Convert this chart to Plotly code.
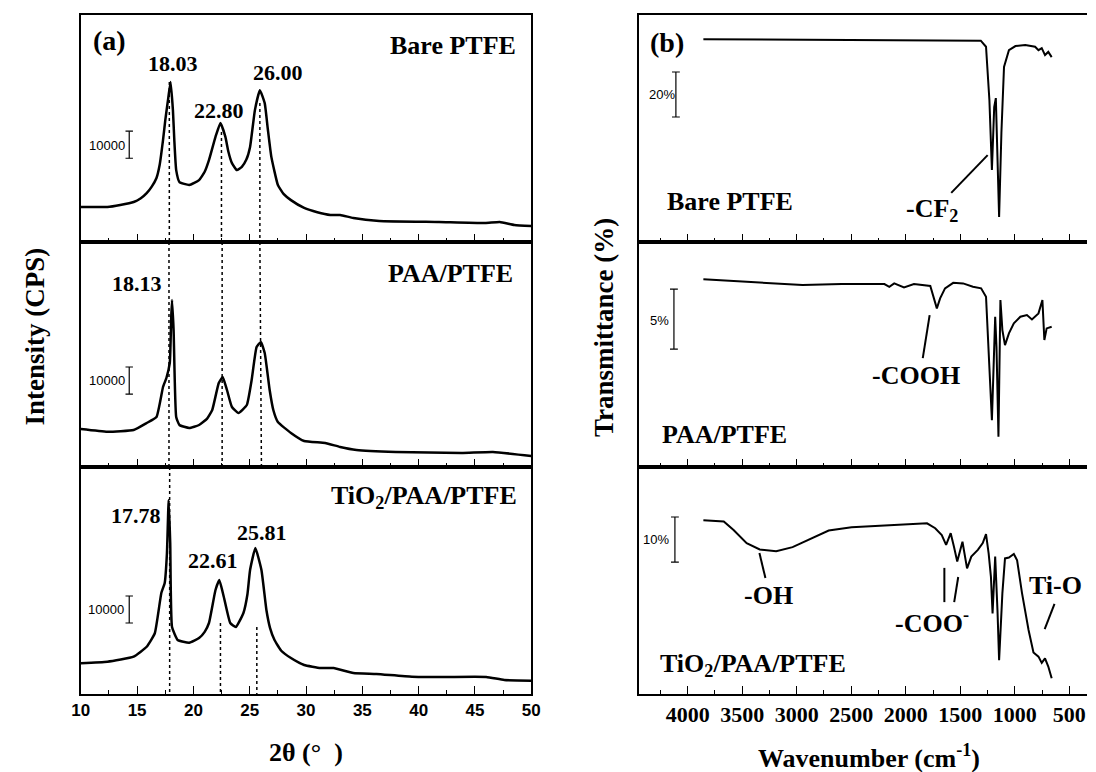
import plotly.graph_objects as go

W, H = 1096, 772
SERIF = "Liberation Serif"
SANS = "Liberation Sans"

# ---------------- XRD data (2theta in degrees, intensity in CPS) ----------------
xrd_bare_2theta = [10.0, 12.36, 13.5, 14.69, 15.3, 15.85, 16.3, 16.72, 17.0, 17.3, 17.5, 17.74, 17.97,
                   18.18, 18.3, 18.47, 18.76, 19.63, 20.5, 21.0, 21.38, 21.96, 22.4, 22.84, 23.1, 23.42,
                   23.86, 24.3, 24.7, 25.03, 25.46, 25.9, 26.33, 26.6, 26.92, 27.5, 28.0, 28.66, 29.83,
                   31.0, 32.16, 33.03, 34.2, 36.5, 41.8, 45.9, 47.2, 48.5, 50.0]
xrd_bare_cps = [12950, 12950, 13700, 14800, 16100, 18100, 20500, 23700, 28500, 37700, 45000, 52500, 59200,
                48800, 38000, 26600, 22200, 21100, 22900, 26000, 30300, 38900, 44000, 38900, 33500, 29200,
                26600, 27800, 30500, 35200, 48800, 56200, 51400, 42000, 31500, 21100, 17800, 15500, 12600,
                11000, 10000, 10000, 8900, 7800, 7400, 7000, 7400, 6300, 5900]

xrd_paa_2theta = [10.0, 12.36, 14.69, 15.85, 16.72, 17.3, 17.6, 17.9, 18.03, 18.1, 18.24, 18.47,
                  18.76, 19.63, 20.5, 21.2, 21.67, 22.25, 22.6, 22.98, 23.42, 24.0, 24.74, 25.17, 25.61,
                  25.99, 26.33, 26.77, 27.1, 27.5, 28.66, 29.83, 31.7, 33.03, 34.48, 37.97, 43.8, 46.6, 50.0]
xrd_paa_cps = [14060, 13060, 13690, 16280, 18500, 29600, 32930, 38480, 55500, 61790, 50690, 18500,
               15540, 14430, 15540, 17800, 21090, 31080, 33300, 28490, 22200, 19980, 22940, 32190, 44400,
               46250, 42180, 28490, 21000, 16650, 12580, 9620, 8880, 7400, 6290, 5550, 5180, 5550, 4070]

xrd_tio2_2theta = [10.0, 12.36, 14.69, 15.85, 16.57, 17.15, 17.45, 17.65, 17.8, 17.94, 18.1, 18.6,
                   19.63, 20.5, 21.0, 21.38, 21.96, 22.3, 22.7, 23.27, 23.77, 24.44, 24.8, 25.03, 25.5,
                   26.04, 26.48, 26.8, 27.2, 27.8, 28.66, 29.83, 31.3, 32.45, 34.2, 36.24, 39.4, 42.36,
                   46.0, 47.6, 50.0]
xrd_tio2_cps = [11360, 11950, 13800, 17500, 22460, 37370, 41070, 52170, 71780, 55870, 24790, 19980,
                18980, 20720, 23000, 26270, 38480, 42180, 35890, 26270, 24790, 29970, 37000, 45880, 54020,
                45880, 31080, 24500, 19980, 16000, 13320, 10730, 9620, 9620, 7770, 7400, 6400, 6290,
                6290, 5180, 4920]

# ---------------- FTIR data (wavenumber in cm-1, transmittance in %) ----------------
ftir_bare_wn = [3856, 3200, 2587, 2000, 1312, 1264, 1233, 1210, 1189, 1174, 1159, 1144, 1123, 1099,
                1054, 994, 904, 814, 783, 753, 723, 693, 662]
ftir_bare_t = [90.0, 89.8, 89.7, 89.5, 89.4, 86.7, 63.0, 32.0, 59.9, 63.9, 33.3, 11.1, 48.4, 77.7,
               85.2, 87.0, 87.5, 86.7, 85.2, 86.1, 83.0, 84.4, 82.1]

ftir_paa_wn = [3856, 3639, 3339, 2947, 2587, 2196, 2151, 2106, 2016, 1925, 1775, 1745, 1715, 1685,
               1640, 1565, 1474, 1384, 1309, 1264, 1233, 1210, 1180, 1168, 1150, 1132, 1114, 1090,
               1054, 1009, 949, 889, 843, 783, 747, 729, 708, 662]
ftir_paa_t = [15.64, 15.52, 15.35, 15.16, 15.24, 15.24, 15.02, 15.30, 14.97, 15.24, 15.08, 14.19, 13.22,
              14.05, 14.89, 15.35, 15.30, 15.02, 14.89, 14.19, 8.63, 3.90, 12.52, 10.02, 2.52, 13.91,
              11.41, 10.16, 11.14, 11.97, 12.52, 12.66, 12.30, 12.80, 13.91, 10.58, 11.55, 11.69]

ftir_tio2_wn = [3856, 3669, 3579, 3459, 3339, 3188, 3038, 2888, 2707, 2497, 2286, 1986, 1805, 1730,
                1670, 1630, 1588, 1558, 1528, 1480, 1438, 1399, 1339, 1294, 1264, 1240, 1219, 1204,
                1180, 1159, 1144, 1114, 1090, 1054, 1009, 979, 934, 874, 829, 783, 753, 723, 693, 662]
ftir_tio2_t = [38.6, 38.3, 36.4, 33.5, 32.1, 31.7, 32.6, 34.3, 36.3, 37.0, 37.3, 37.7, 37.9, 36.8,
               35.3, 33.1, 35.7, 32.7, 29.4, 33.8, 27.9, 30.5, 32.0, 33.5, 35.5, 31.2, 26.0, 17.9,
               30.5, 18.6, 7.5, 22.4, 30.1, 30.3, 31.1, 29.7, 22.4, 14.2, 9.2, 8.3, 6.9, 7.9, 6.1, 3.5]

# tick labels
xrd_ticks = [10, 15, 20, 25, 30, 35, 40, 45, 50]
ftir_ticks = [4000, 3500, 3000, 2500, 2000, 1500, 1000, 500]

# ---------------- layout helpers ----------------
def px2x(px):
    return px / W

def py2y(py):
    return 1 - py / H

left_dom = [px2x(73), px2x(531)]
right_dom = [px2x(641), 1.0]
rows = [[py2y(242), py2y(15)], [py2y(467), py2y(242)], [py2y(694), py2y(467)]]

fig = go.Figure()

xrd_sets = [(xrd_bare_2theta, xrd_bare_cps), (xrd_paa_2theta, xrd_paa_cps), (xrd_tio2_2theta, xrd_tio2_cps)]
ftir_sets = [(ftir_bare_wn, ftir_bare_t), (ftir_paa_wn, ftir_paa_t), (ftir_tio2_wn, ftir_tio2_t)]

for i, (xv, yv) in enumerate(xrd_sets):
    n = i + 1
    fig.add_trace(go.Scatter(x=xv, y=yv, mode="lines",
                             line=dict(color="black", width=2.5, shape="spline", smoothing=0.4),
                             xaxis=f"x{n if n > 1 else ''}", yaxis=f"y{n if n > 1 else ''}",
                             showlegend=False, hoverinfo="skip"))
for i, (xv, yv) in enumerate(ftir_sets):
    n = i + 4
    fig.add_trace(go.Scatter(x=xv, y=yv, mode="lines", line=dict(color="black", width=2),
                             xaxis=f"x{n}", yaxis=f"y{n}", showlegend=False, hoverinfo="skip"))

xrd_yranges = [[0, 84000], [0, 83250], [0, 84000]]
ftir_yranges = [[0, 100.8], [0, 18.75], [0, 50.4]]

layout = dict(width=W, height=H, margin=dict(l=0, r=0, t=0, b=0),
              paper_bgcolor="white", plot_bgcolor="white", showlegend=False)

def xaxis_common(n, dom, rng, ticks, labelfont, minor_dtick, is_bottom, matches):
    d = dict(domain=dom, range=rng, anchor=f"y{n if n > 1 else ''}", showgrid=False, zeroline=False,
             showline=True, linecolor="black", linewidth=1.5, mirror=True,
             ticks="inside", ticklen=8, tickwidth=1.3, tickcolor="black",
             tickmode="array", tickvals=ticks, ticktext=[str(t) for t in ticks],
             minor=dict(ticks="inside", ticklen=4, tickwidth=1.3, tickcolor="black", dtick=minor_dtick,
                        tick0=0, showgrid=False),
             showticklabels=is_bottom, tickfont=labelfont)
    if matches:
        d["matches"] = matches
    return d

for i in range(3):
    n = i + 1
    key = "xaxis" if n == 1 else f"xaxis{n}"
    ykey = "yaxis" if n == 1 else f"yaxis{n}"
    layout[key] = xaxis_common(n, left_dom, [10, 50], xrd_ticks,
                               dict(family=SANS, size=17, color="black", weight="bold"),
                               2.5, i == 2, "x3" if n != 3 else None)
    layout[ykey] = dict(domain=rows[i], range=xrd_yranges[i], anchor=f"x{n if n > 1 else ''}",
                        showgrid=False, zeroline=False, showticklabels=False, ticks="",
                        showline=True, linecolor="black", linewidth=1.5, mirror=True)
for i in range(3):
    n = i + 4
    layout[f"xaxis{n}"] = xaxis_common(n, right_dom, [4442, 338], ftir_ticks,
                                       dict(family=SERIF, size=22, color="black", weight="bold"),
                                       250, i == 2, "x6" if n != 6 else None)
    layout[f"yaxis{n}"] = dict(domain=rows[i], range=ftir_yranges[i], anchor=f"x{n}",
                               showgrid=False, zeroline=False, showticklabels=False, ticks="",
                               showline=True, linecolor="black", linewidth=1.5, mirror=False)

fig.update_layout(**layout)

shapes = []
annotations = []

def ln(xr, yr, x0, y0, x1, y1, dash=None, width=1.5):
    line = dict(color="black", width=width)
    if dash:
        line["dash"] = dash
    shapes.append(dict(type="line", xref=xr, yref=yr, x0=x0, y0=y0, x1=x1, y1=y1, line=line))

def txt(xr, yr, x, y, text, size=26, family=SERIF, bold=True, xanchor="center", yanchor="middle",
        angle=0):
    annotations.append(dict(xref=xr, yref=yr, x=x, y=y, text=f"<b>{text}</b>" if bold else text,
                            showarrow=False, xanchor=xanchor, yanchor=yanchor, textangle=angle,
                            font=dict(family=family, size=size, color="black")))

def scale_bar(xr, yr, x, y0, length, half_w):
    ln(xr, yr, x, y0, x, y0 + length, width=1.2)
    ln(xr, yr, x - half_w, y0, x + half_w, y0, width=1.2)
    ln(xr, yr, x - half_w, y0 + length, x + half_w, y0 + length, width=1.2)

# ---- XRD panel decorations ----
ln("x", "y", 17.86, 59200, 17.86, 0, dash="dot")
ln("x", "y", 22.49, 40700, 22.49, 0, dash="dot")
ln("x", "y", 25.9, 51400, 25.9, 0, dash="dot")
ln("x2", "y2 domain", 17.83, 1, 17.83, 0, dash="dot")
ln("x2", "y2 domain", 22.55, 1, 22.55, 0, dash="dot")
ln("x2", "y2 domain", 25.9, 1, 26.04, 0, dash="dot")
ln("x3", "y3 domain", 17.89, 1, 17.89, 0, dash="dot")
ln("x3", "y3", 22.4, 26270, 22.4, 0, dash="dot")
ln("x3", "y3", 25.63, 24790, 25.63, 0, dash="dot")

scale_bar("x", "y", 14.3, 31000, 10000, 0.33)
scale_bar("x2", "y2", 14.3, 27000, 10000, 0.33)
scale_bar("x3", "y3", 14.3, 26270, 10000, 0.33)
txt("x", "y", 12.36, 35890, "10000", size=13, family=SANS, bold=False)
txt("x2", "y2", 12.36, 32190, "10000", size=13, family=SANS, bold=False)
txt("x3", "y3", 12.2, 31450, "10000", size=13, family=SANS, bold=False)

txt("x", "y", 12.53, 74740, "(a)", size=28)
txt("x", "y", 48.78, 72890, "Bare PTFE", xanchor="right")
txt("x2", "y2", 48.52, 71780, "PAA/PTFE", xanchor="right")
txt("x3", "y3", 48.87, 72890, "TiO<sub>2</sub>/PAA/PTFE", xanchor="right")

txt("x", "y", 18.21, 66230, "18.03", size=22)
txt("x", "y", 22.23, 48840, "22.80", size=22)
txt("x", "y", 27.47, 62900, "26.00", size=22)
txt("x2", "y2", 14.98, 68080, "18.13", size=22)
txt("x3", "y3", 14.89, 66230, "17.78", size=22)
txt("x3", "y3", 21.75, 49580, "22.61", size=22)
txt("x3", "y3", 26.07, 59940, "25.81", size=22)

# ---- FTIR panel decorations ----
scale_bar("x4", "y4", 4108, 55.5, 20, 36)
scale_bar("x5", "y5", 4126, 9.83, 5, 36)
scale_bar("x6", "y6", 4117, 29.3, 10, 36)
txt("x4", "y4", 4235, 65.3, "20%", size=13, family=SANS, bold=False)
txt("x5", "y5", 4262, 12.2, "5%", size=13, family=SANS, bold=False)
txt("x6", "y6", 4289, 34.4, "10%", size=13, family=SANS, bold=False)

txt("x4", "y4", 4189, 88.8, "(b)", size=28)
txt("x4", "y4", 4207, 17.8, "Bare PTFE", xanchor="left")
txt("x5", "y5", 4253, 2.67, "PAA/PTFE", xanchor="left")
txt("x6", "y6", 4271, 6.4, "TiO<sub>2</sub>/PAA/PTFE", xanchor="left")

ln("x4", "y4", 1583, 21.8, 1249, 38.6, width=2)
txt("x4", "y4", 1763, 14.2, "-CF<sub>2</sub>")
ln("x5", "y5", 1844, 9.08, 1781, 12.66, width=2)
txt("x5", "y5", 1907, 7.66, "-COOH")
ln("x6", "y6", 3287, 25.75, 3342, 31.3, width=2)
txt("x6", "y6", 3260, 21.8, "-OH")
ln("x6", "y6", 1646, 20.4, 1646, 28.0, width=2)
ln("x6", "y6", 1556, 20.4, 1519, 25.97, width=2)
txt("x6", "y6", 1763, 16.0, "-COO<sup>-</sup>")
ln("x6", "y6", 726, 14.4, 636, 20.0, width=2)
txt("x6", "y6", 627, 24.2, "Ti-O")

# ---- axis titles ----
txt("paper", "paper", px2x(26), py2y(337), "Intensity (CPS)", size=27, angle=-90)
txt("paper", "paper", px2x(605), py2y(328), "Transmittance (%)", size=27, angle=-90)
txt("paper", "paper", px2x(302), py2y(752), "2θ (°  )", size=26)
txt("paper", "paper", px2x(874), py2y(756), "Wavenumber (cm<sup>-1</sup>)", size=26)

fig.update_layout(shapes=shapes, annotations=annotations)
fig.write_html("out.html",
               post_script="document.body.style.margin='0';document.documentElement.style.overflow='hidden';")
